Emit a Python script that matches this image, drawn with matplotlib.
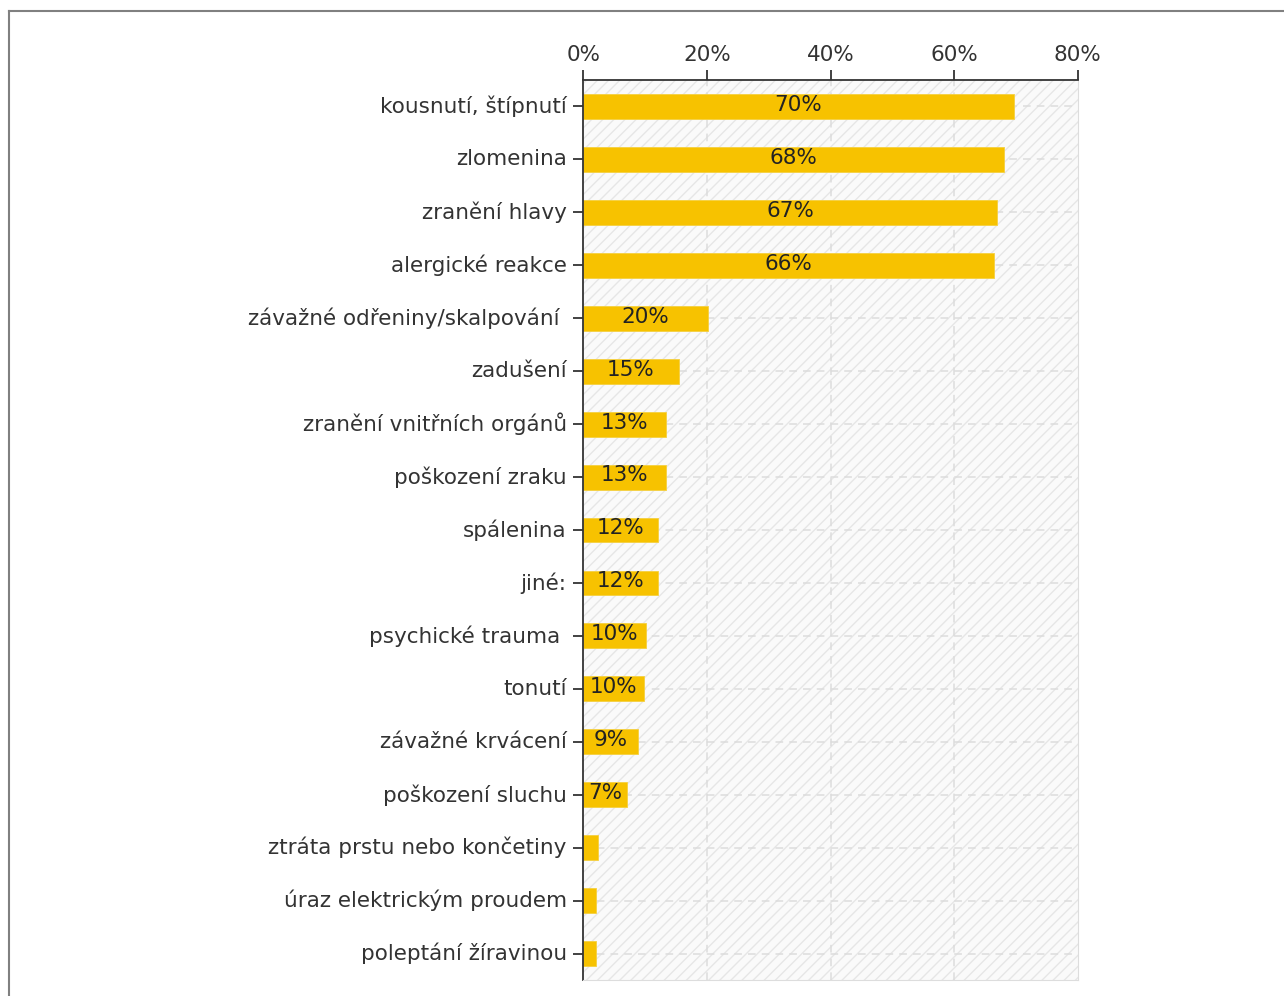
import matplotlib.pyplot as plt
from matplotlib.patches import Rectangle
from matplotlib.lines import Line2D

categories = [
    "kousnutí, štípnutí",
    "zlomenina",
    "zranění hlavy",
    "alergické reakce",
    "závažné odřeniny/skalpování ",
    "zadušení",
    "zranění vnitřních orgánů",
    "poškození zraku",
    "spálenina",
    "jiné:",
    "psychické trauma ",
    "tonutí",
    "závažné krvácení",
    "poškození sluchu",
    "ztráta prstu nebo končetiny",
    "úraz elektrickým proudem",
    "poleptání žíravinou",
]
values = [69.6, 68.0, 66.9, 66.4, 20.1, 15.4, 13.3, 13.3, 12.0, 12.0,
          10.1, 9.8, 8.8, 7.0, 2.4, 2.0, 2.0]
xticks = [0, 20, 40, 60, 80]

plt.rcParams["hatch.linewidth"] = 1.0
plt.rcParams["hatch.color"] = "#e6e6e6"

fig = plt.figure(figsize=(12.84, 9.96), dpi=100)
ax = fig.add_axes([0.4544, 0.016, 0.3850, 0.9037])

ax.set_xlim(0, 80)
ax.set_ylim(len(categories) - 0.5, -0.5)

# hatched plot background
ax.set_facecolor("#fafafa")
ax.add_patch(Rectangle((0, 0), 1, 1, transform=ax.transAxes, facecolor="none",
                       edgecolor="#e6e6e6", hatch="///", linewidth=0, zorder=0))

ypos = list(range(len(categories)))
for y in ypos:
    ax.axhline(y, color="#dcdcdc", linestyle=(0, (5, 4)), linewidth=1.1, zorder=1)
for x in xticks[1:-1]:
    ax.axvline(x, color="#dcdcdc", linestyle=(0, (5, 4)), linewidth=1.1, zorder=1)

ax.barh(ypos, values, height=0.47, color="#f7c200", edgecolor="#f5d040",
        linewidth=0.6, zorder=2)

for y, v in zip(ypos, values):
    if v >= 5:
        ax.text(v / 2, y - 0.03, f"{v:.0f}%", ha="center", va="center",
                fontsize=15.5, color="#222222", zorder=3)

ax.set_yticks(ypos)
ax.set_yticklabels(categories, va="center")
ax.set_xticks(xticks)
ax.set_xticklabels([f"{t}%" for t in xticks])
ax.xaxis.tick_top()
ax.tick_params(axis="x", length=7, width=1.3, colors="#333333", labelsize=15.5,
               pad=4, direction="out")
ax.tick_params(axis="y", length=7, width=1.3, colors="#333333", labelsize=15.5,
               pad=5)
for lbl in ax.get_xticklabels() + ax.get_yticklabels():
    lbl.set_color("#333333")

ax.spines["top"].set_color("#333333")
ax.spines["top"].set_linewidth(1.3)
ax.spines["left"].set_color("#333333")
ax.spines["left"].set_linewidth(1.3)
ax.spines["right"].set_color("#dddddd")
ax.spines["bottom"].set_color("#dddddd")

# outer frame, top and left edges only
fig.add_artist(Line2D([9 / 1284, 1], [1 - 11 / 996, 1 - 11 / 996],
                      transform=fig.transFigure, color="#808080", linewidth=1.5))
fig.add_artist(Line2D([9 / 1284, 9 / 1284], [0, 1 - 11 / 996],
                      transform=fig.transFigure, color="#808080", linewidth=1.5))

fig.savefig("out.png", dpi=100)
